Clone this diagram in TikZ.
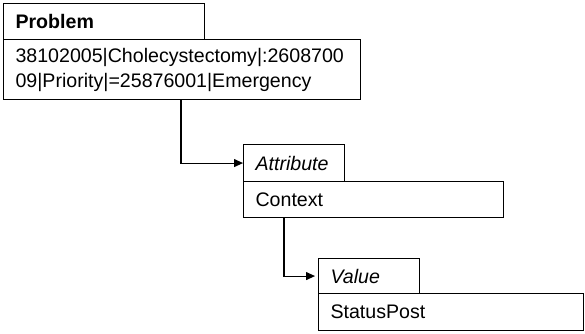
\documentclass[tikz,border=0pt]{standalone}
\usepackage{fontspec}
\setmainfont{Liberation Sans}
\usetikzlibrary{arrows.meta,calc}
\begin{document}
\begin{tikzpicture}[x=1pt,y=1pt,
  box/.style={draw=black, line width=1.1pt, rectangle, anchor=north west,
    inner xsep=12pt, inner ysep=0pt, align=left,
    font=\fontsize{19.6}{25}\selectfont},
  link/.style={draw=black, line width=1.1pt, -{Triangle[length=9pt,width=8pt]}}]
  \useasboundingbox (0,0) rectangle (585,-333);
  % Problem class
  \node[box, minimum height=36pt, text width=177pt] (ptab) at (3,-3) {\textbf{Problem}};
  \node[box, minimum height=60pt, text width=333pt] (pbody) at (3,-39)
    {38102005|Cholecystectomy|:2608700\\09|Priority|=25876001|Emergency};
  % Attribute class
  \node[box, minimum height=37pt, text width=77pt] (atab) at (243,-144) {\textit{Attribute}};
  \node[box, minimum height=36pt, text width=236pt] (abody) at (243,-181) {Context};
  % Value class
  \node[box, minimum height=35pt, text width=77pt] (vtab) at (318,-258) {\textit{Value}};
  \node[box, minimum height=37pt, text width=241pt] (vbody) at (318,-293) {StatusPost};
  % connectors
  \draw[link] ($(pbody.south west)+(178,0)$) |- (atab.west);
  \draw[link, shorten >=3pt] ($(abody.south west)+(41,0)$) |- (vtab.west);
\end{tikzpicture}
\end{document}
